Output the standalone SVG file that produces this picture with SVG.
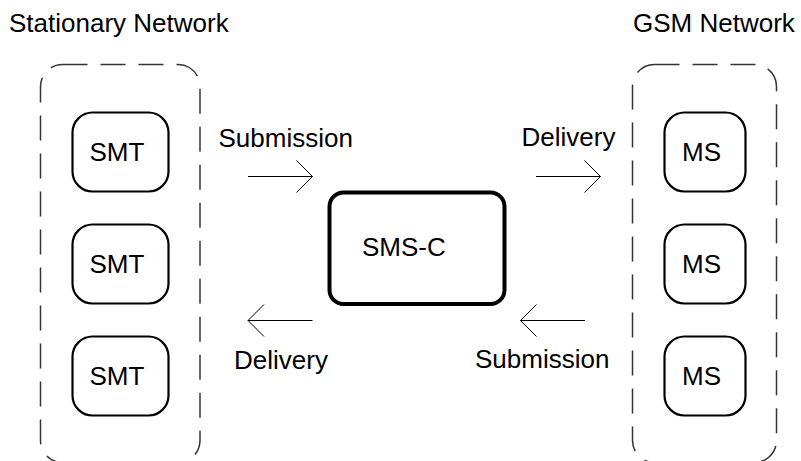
<svg xmlns="http://www.w3.org/2000/svg" width="801" height="461" viewBox="0 0 801 461">
<style>
text{font-family:"Liberation Sans",Arial,sans-serif;font-size:26px;fill:#000}
.net{fill:none;stroke:#333;stroke-width:1.5;stroke-dasharray:25 13}
.node{fill:#fff;stroke:#000;stroke-width:2.2}
.center{fill:#fff;stroke:#000;stroke-width:4}
.arrow{fill:none;stroke:#000;stroke-width:1;marker-end:url(#chev)}
</style>
<defs>
<marker id="chev" markerUnits="userSpaceOnUse" markerWidth="20" markerHeight="36" refX="17" refY="17" orient="auto" overflow="visible">
<path d="M1,1 L17,17 L1,33" fill="none" stroke="#000" stroke-width="1"/>
</marker>
</defs>
<g id="stationary-network">
<rect class="net" x="40.5" y="64.5" width="159.5" height="398" rx="22"/>
<text x="9" y="32">Stationary Network</text>
</g>
<g id="gsm-network">
<rect class="net" x="632.5" y="64.5" width="144" height="398" rx="22"/>
<text x="633" y="32">GSM Network</text>
</g>
<g id="smt1"><rect class="node" x="72.5" y="112.5" width="96" height="79" rx="20"/><text x="89.5" y="160.5">SMT</text></g>
<g id="smt2"><rect class="node" x="72.5" y="224.5" width="96" height="79" rx="20"/><text x="89.5" y="272.5">SMT</text></g>
<g id="smt3"><rect class="node" x="72.5" y="336.5" width="96" height="79" rx="20"/><text x="89.5" y="384.5">SMT</text></g>
<g id="ms1"><rect class="node" x="664.5" y="112.5" width="81" height="79" rx="20"/><text x="682" y="160.5">MS</text></g>
<g id="ms2"><rect class="node" x="664.5" y="224.5" width="81" height="79" rx="20"/><text x="682" y="272.5">MS</text></g>
<g id="ms3"><rect class="node" x="664.5" y="336.5" width="81" height="79" rx="20"/><text x="682" y="384.5">MS</text></g>
<g id="smsc"><rect class="center" x="329.5" y="192.5" width="175" height="111.5" rx="14"/><text x="362" y="256">SMS-C</text></g>
<g id="connectors">
<line class="arrow" x1="248" y1="176.5" x2="312.5" y2="176.5"/>
<line class="arrow" x1="536" y1="176.5" x2="600.5" y2="176.5"/>
<line class="arrow" x1="312.5" y1="320.5" x2="248" y2="320.5"/>
<line class="arrow" x1="585" y1="320.5" x2="520.5" y2="320.5"/>
<text x="218.5" y="146.5">Submission</text>
<text x="521.5" y="145.5">Delivery</text>
<text x="234" y="368.5">Delivery</text>
<text x="475" y="367.5">Submission</text>
</g>
</svg>
